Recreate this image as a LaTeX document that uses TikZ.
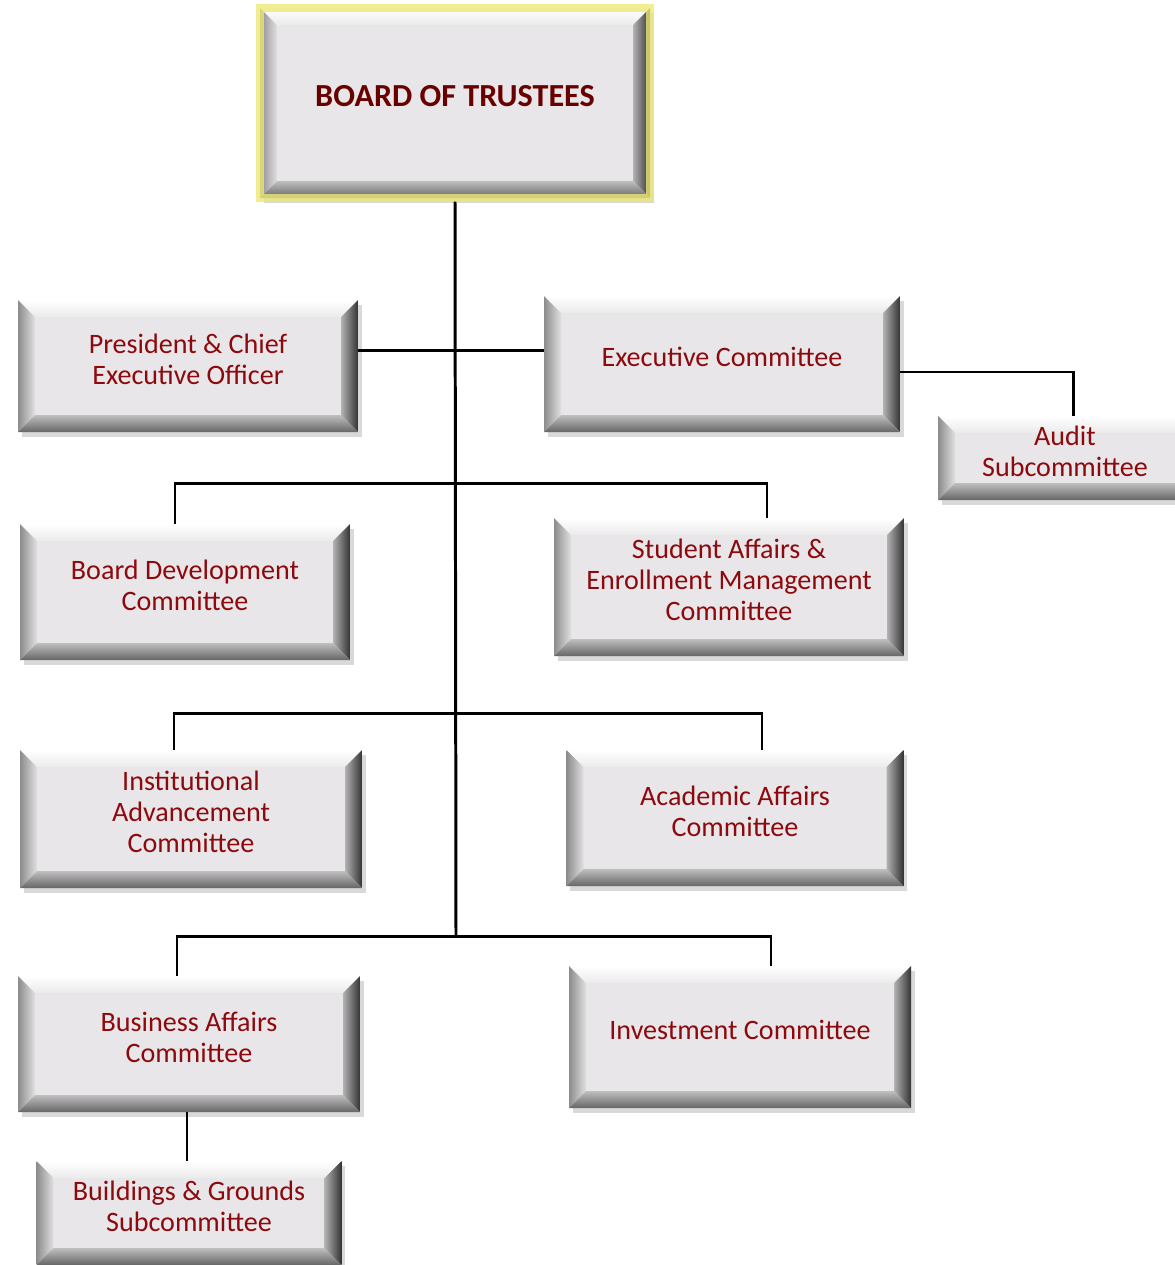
\documentclass[tikz,border=0pt]{standalone}
\usepackage{fontspec}
\setmainfont{Carlito}
\usetikzlibrary{calc,shadows}

\definecolor{boxred}{RGB}{140,10,14}
\definecolor{boardred}{RGB}{105,0,0}
\definecolor{boxgray}{RGB}{232,230,232}
\definecolor{glow}{RGB}{236,232,120}

\newcommand{\bv}{0.34cm}

\tikzset{
  bevelbox/.style 2 args={
    minimum width=#1*0.02cm, minimum height=#2*0.02cm,
    inner sep=0pt, align=center, fill=boxgray, text depth=0.28cm,
    text=boxred, font=\fontsize{16pt}{17.6pt}\selectfont,
    drop shadow={shadow xshift=2pt, shadow yshift=-3pt, opacity=0.3},
    path picture={
      \path (path picture bounding box.south west) coordinate (bsw)
            (path picture bounding box.north east) coordinate (bne)
            (path picture bounding box.north west) coordinate (bnw)
            (path picture bounding box.south east) coordinate (bse);
      \shade[top color=white, bottom color=white!92!black]
        (bnw) -- (bne) -- ([shift={(-\bv,-\bv)}]bne) -- ([shift={(\bv,-\bv)}]bnw) -- cycle;
      \shade[left color=black!45, right color=black!12]
        (bnw) -- ([shift={(\bv,-\bv)}]bnw) -- ([shift={(\bv,\bv)}]bsw) -- (bsw) -- cycle;
      \shade[left color=black!30, right color=black!80]
        (bne) -- ([shift={(-\bv,-\bv)}]bne) -- ([shift={(-\bv,\bv)}]bse) -- (bse) -- cycle;
      \shade[top color=black!25, bottom color=black!60]
        (bsw) -- ([shift={(\bv,\bv)}]bsw) -- ([shift={(-\bv,\bv)}]bse) -- (bse) -- cycle;
    }
  },
  link/.style={line width=1.7pt, black}
}

\begin{document}
\begin{tikzpicture}[x=0.02cm, y=-0.02cm]
  \useasboundingbox (0,0) rectangle (1174,1265);

  % boxes
  \node[bevelbox={390}{190}, draw=glow, line width=4pt, draw opacity=0.8,
        text=boardred, font=\fontsize{18.3pt}{20pt}\selectfont\bfseries]
        (board) at (455,103) {BOARD OF TRUSTEES};

  \node[bevelbox={340}{132}] (pres) at (188,366) {President \& Chief\\Executive Officer};
  \node[bevelbox={356}{136}] (exec) at (722,364) {Executive Committee};
  \node[bevelbox={254}{84}] (audit) at (1065,458) {Audit\\Subcommittee};

  \node[bevelbox={330}{136}] (bdev) at (185,592) {Board Development\\Committee};
  \node[bevelbox={350}{138}] (student) at (729,587) {Student Affairs \&\\Enrollment Management\\Committee};

  \node[bevelbox={342}{138}] (inst) at (191,819) {Institutional\\Advancement\\Committee};
  \node[bevelbox={337}{136}] (acad) at (735,818) {Academic Affairs\\Committee};

  \node[bevelbox={342}{136}] (bus) at (189,1044) {Business Affairs\\Committee};
  \node[bevelbox={342}{142}] (invest) at (740,1037) {Investment Committee};

  \node[bevelbox={305}{104}] (build) at (189,1213) {Buildings \& Grounds\\Subcommittee};

  % connectors
  \coordinate (j1) at (456,350);
  \coordinate (j2) at (456,483);
  \coordinate (j3) at (456,713);
  \coordinate (j4) at (456,936);

  \draw[link] (board.south) -- (j4);
  \draw[link] (pres.east |- j1) -- (exec.west |- j1);
  \draw[link] ([yshift=-0.16cm]exec.east) -| ([xshift=0.16cm]audit.north);

  \draw[link] ([xshift=-0.2cm]bdev.north) |- (j2) -| ([xshift=0.76cm]student.north);
  \draw[link] ([xshift=-0.34cm]inst.north) |- (j3) -| ([xshift=0.54cm]acad.north);
  \draw[link] ([xshift=-0.24cm]bus.north) |- (j4) -| ([xshift=0.62cm]invest.north);

  \draw[link] ([xshift=-0.04cm]bus.south) -- ([xshift=-0.04cm]build.north);
\end{tikzpicture}
\end{document}
